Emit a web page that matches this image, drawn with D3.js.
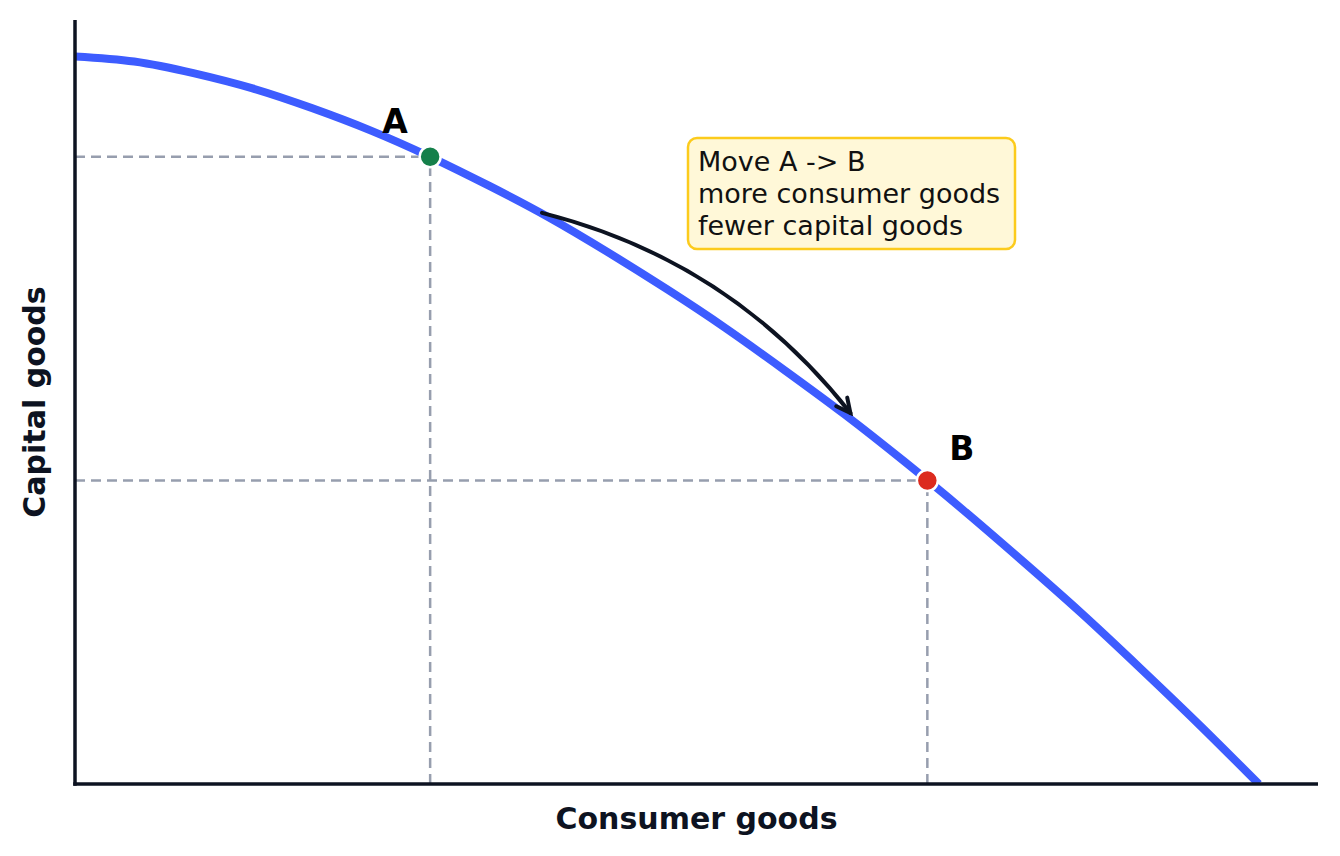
<!DOCTYPE html>
<html>
<head>
<meta charset="utf-8">
<script src="https://cdn.jsdelivr.net/npm/d3@7"></script>
<style>
  body { margin: 0; background: #fff; }
  text { font-family: "DejaVu Sans", sans-serif; }
</style>
</head>
<body>
<div id="chart"></div>
<script>
// Curve (consumer goods -> capital goods)
const consumer = [0, 5, 10, 15, 20, 25, 30, 35, 40, 45, 50, 55, 60, 65, 70, 75, 80, 85, 90, 95, 100];
const capital = [100, 99.3, 97.7, 95.6, 92.9, 89.8, 86.2, 82.2, 77.9, 73.1, 68.0, 62.6, 56.8, 50.8, 44.4, 37.7, 30.7, 23.5, 15.9, 8.1, 0];

// Marked points
const pointNames = ["A", "B"];
const pointX = [30, 72];
const pointY = [86.2, 41.7];
const pointColors = ["#15804a", "#dc2b1f"];

// Arrow from A side to B side
const arrowFrom = [39.45, 78.5];
const arrowTo = [65.5, 51.0];

const noteLines = ["Move A -> B", "more consumer goods", "fewer capital goods"];

const width = 1340, height = 856;
const margin = { top: 20, right: 22, bottom: 72, left: 75 };
const ink = "#0d1321";

const svg = d3.select("#chart").append("svg")
    .attr("width", width)
    .attr("height", height);

const x = d3.scaleLinear().domain([0, 105]).range([margin.left, width - margin.right]);
const y = d3.scaleLinear().domain([0, 105]).range([height - margin.bottom, margin.top]);

const defs = svg.append("defs");
defs.append("clipPath").attr("id", "plot")
    .append("rect")
    .attr("x", margin.left).attr("y", margin.top)
    .attr("width", width - margin.left - margin.right)
    .attr("height", height - margin.top - margin.bottom);

defs.append("marker")
    .attr("id", "head")
    .attr("viewBox", "-18 -10 22 20")
    .attr("markerWidth", 22).attr("markerHeight", 20)
    .attr("markerUnits", "userSpaceOnUse")
    .attr("orient", "auto")
    .append("path")
    .attr("d", "M-14,-7 L0,0 L-14,7")
    .attr("fill", "none")
    .attr("stroke", ink)
    .attr("stroke-width", 4)
    .attr("stroke-linecap", "round")
    .attr("stroke-linejoin", "miter");

// Dashed guide lines
const guides = svg.append("g")
    .attr("stroke", "#979eae")
    .attr("stroke-width", 2.5)
    .attr("stroke-dasharray", "10,6");
pointX.forEach((px, i) => {
    guides.append("line")
        .attr("x1", x(0)).attr("x2", x(px))
        .attr("y1", y(pointY[i])).attr("y2", y(pointY[i]));
    guides.append("line")
        .attr("x1", x(px)).attr("x2", x(px))
        .attr("y1", y(0)).attr("y2", y(pointY[i]));
});

// PPF curve
const line = d3.line()
    .x(d => x(d[0]))
    .y(d => y(d[1]))
    .curve(d3.curveNatural);

svg.append("path")
    .datum(consumer.map((c, i) => [c, capital[i]]))
    .attr("clip-path", "url(#plot)")
    .attr("fill", "none")
    .attr("stroke", "#3d5cff")
    .attr("stroke-width", 8)
    .attr("d", line);

// Curved arrow (arc bending up and to the right)
const x1 = x(arrowFrom[0]), y1 = y(arrowFrom[1]);
const x2 = x(arrowTo[0]), y2 = y(arrowTo[1]);
const rad = 0.17;
const cx = (x1 + x2) / 2 + rad * (y2 - y1);
const cy = (y1 + y2) / 2 - rad * (x2 - x1);
svg.append("path")
    .attr("d", `M${x1},${y1} Q${cx},${cy} ${x2},${y2}`)
    .attr("fill", "none")
    .attr("stroke", ink)
    .attr("stroke-width", 4)
    .attr("stroke-linecap", "round")
    .attr("marker-end", "url(#head)");

// Points and labels
svg.selectAll(".pt")
    .data(pointNames)
    .enter().append("circle")
    .attr("cx", (d, i) => x(pointX[i]))
    .attr("cy", (d, i) => y(pointY[i]))
    .attr("r", 10.5)
    .attr("fill", (d, i) => pointColors[i])
    .attr("stroke", "#fff")
    .attr("stroke-width", 2.5);

const labelOffsets = [[-48, -24], [22, -21]];
svg.selectAll(".lbl")
    .data(pointNames)
    .enter().append("text")
    .attr("x", (d, i) => x(pointX[i]) + labelOffsets[i][0])
    .attr("y", (d, i) => y(pointY[i]) + labelOffsets[i][1])
    .attr("font-size", 33)
    .attr("font-weight", "bold")
    .attr("fill", "#000")
    .text(d => d);

// Note box
const note = svg.append("g").attr("transform", "translate(688,138)");
note.append("rect")
    .attr("width", 327).attr("height", 111)
    .attr("rx", 9)
    .attr("fill", "#fff8d8")
    .attr("stroke", "#fccb1c")
    .attr("stroke-width", 2.5);
note.selectAll("text")
    .data(noteLines)
    .enter().append("text")
    .attr("x", 10)
    .attr("y", (d, i) => 33 + i * 32)
    .attr("font-size", 27)
    .attr("fill", "#111")
    .text(d => d);

// Spines
svg.append("line")
    .attr("x1", x(0)).attr("x2", x(0))
    .attr("y1", margin.top).attr("y2", y(0) + 1.75)
    .attr("stroke", ink).attr("stroke-width", 3.5);
svg.append("line")
    .attr("x1", x(0) - 1.75).attr("x2", width - margin.right)
    .attr("y1", y(0)).attr("y2", y(0))
    .attr("stroke", ink).attr("stroke-width", 3.5);

// Axis titles
svg.append("text")
    .attr("x", (margin.left + width - margin.right) / 2)
    .attr("y", 829)
    .attr("text-anchor", "middle")
    .attr("font-size", 30)
    .attr("font-weight", "bold")
    .attr("fill", ink)
    .text("Consumer goods");

svg.append("text")
    .attr("transform", `translate(45,${(margin.top + height - margin.bottom) / 2}) rotate(-90)`)
    .attr("text-anchor", "middle")
    .attr("font-size", 30)
    .attr("font-weight", "bold")
    .attr("fill", ink)
    .text("Capital goods");
</script>
</body>
</html>
